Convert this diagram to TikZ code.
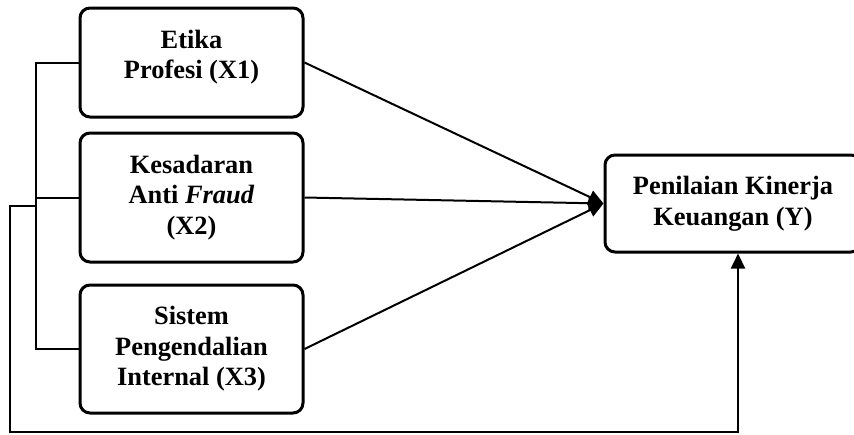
\documentclass[tikz,border=0pt]{standalone}
\usepackage{fontspec}
\setmainfont{Liberation Serif}
\usetikzlibrary{arrows.meta}

\begin{document}
\begin{tikzpicture}[x=0.5pt, y=-0.5pt,
    varbox/.style={draw, line width=1.5pt, rounded corners=5pt, align=center,
      font=\fontsize{13.2}{15.3}\selectfont\bfseries, inner sep=0pt},
    link/.style={line width=1pt},
    arrow/.style={link, -{Triangle[length=7.5pt, width=7pt]}}]

\useasboundingbox (0,0) rectangle (854,434);

% The three independent variables on the left
\node[varbox, minimum width=111.5pt, minimum height=54.5pt] (x1) at (191.5, 62.5)
  {Etika\\Profesi (X1)\\[-7.3pt]\mbox{}};
\node[varbox, minimum width=111.5pt, minimum height=64.5pt] (x2) at (191.5, 197.5)
  {Kesadaran\\Anti \textit{Fraud}\\(X2)};
\node[varbox, minimum width=111.5pt, minimum height=64pt] (x3) at (191.5, 349)
  {Sistem\\Pengendalian\\Internal (X3)};

% The dependent variable on the right
\node[varbox, minimum width=128pt, minimum height=48.5pt] (y) at (733, 203.5)
  {Penilaian Kinerja\\Keuangan (Y)};

% Partial effects, all meeting at one point of Y
\foreach \src in {x1, x2, x3} {
  \draw[arrow] (\src.east) -- (y.west);
}

% Bracket joining the three variables
\draw[link] (x1.west) -- ++(-43,0) |- (x3.west);
\draw[link] (x2.west) -- ++(-43,0);

% Joint effect, round the bottom into Y
\coordinate (split) at (37,206);
\draw[arrow] (split) -- ++(-27,0) -- ++(0,226) -| ([xshift=2.5pt]y.south);

\end{tikzpicture}
\end{document}
